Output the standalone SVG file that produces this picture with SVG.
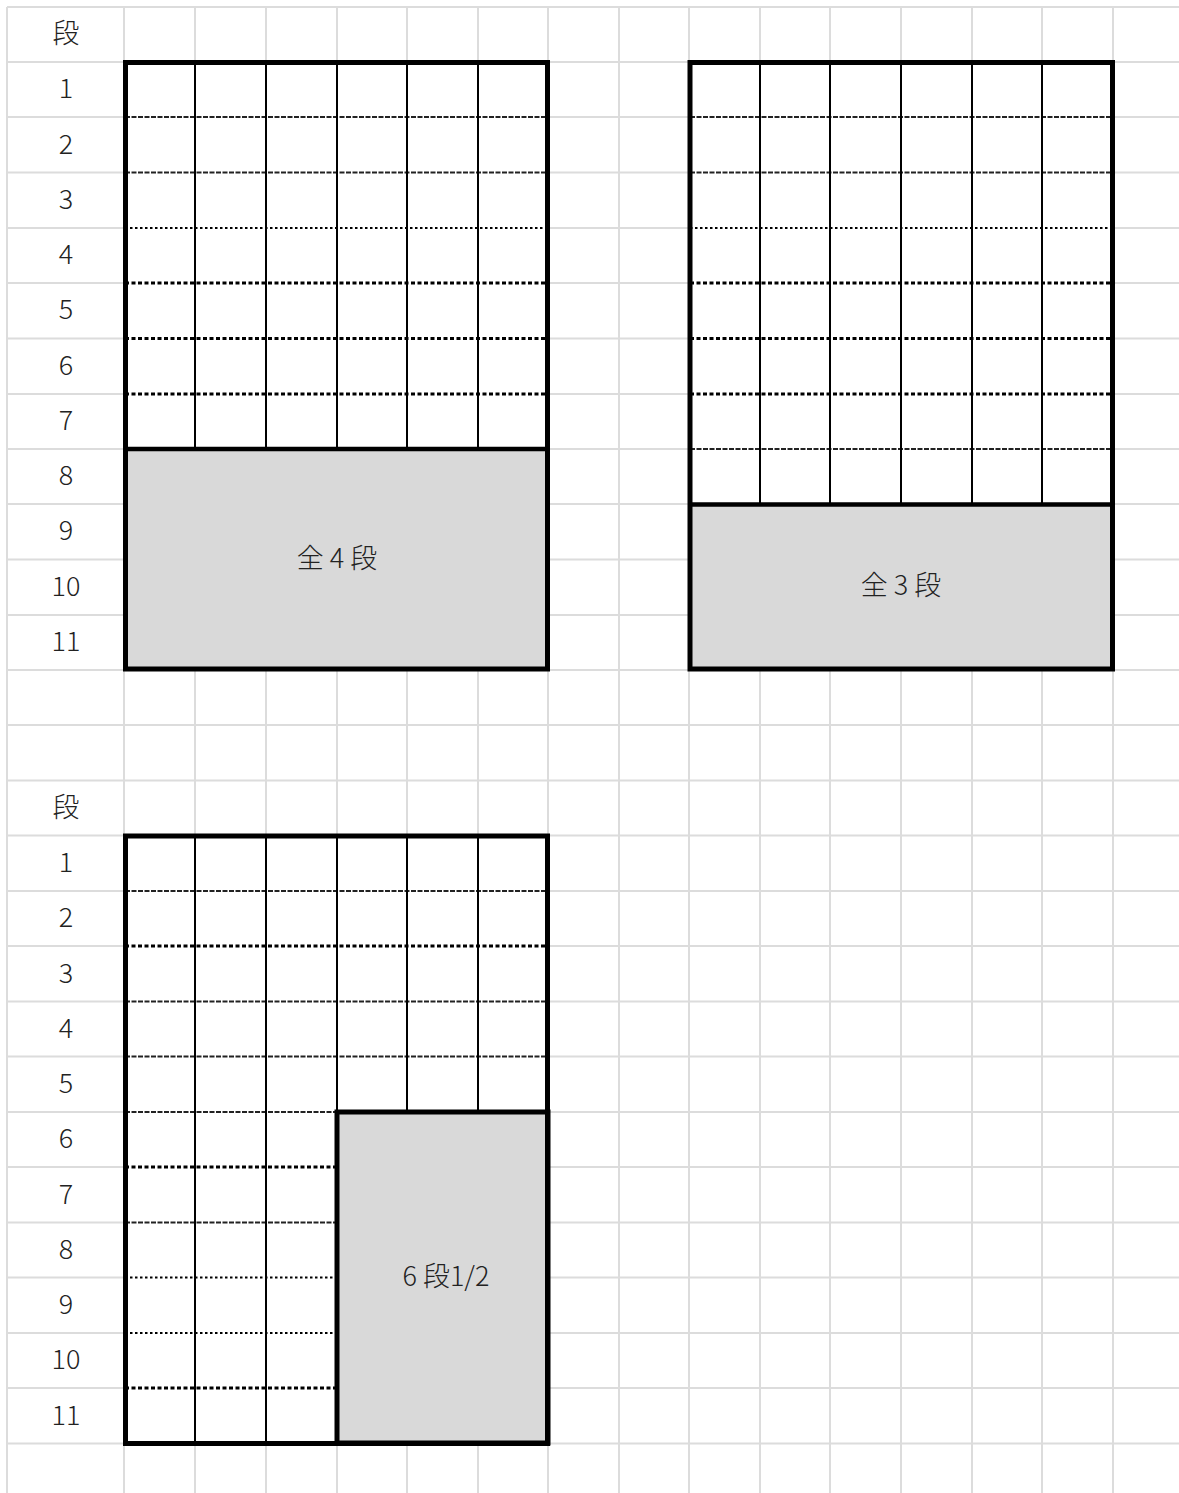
<svg xmlns="http://www.w3.org/2000/svg" width="1179" height="1493" viewBox="0 0 1179 1493">
<style>
.grid line{stroke:#dcdcdc;stroke-width:2}
.lbl{font-family:"Noto Sans CJK JP","Noto Sans",sans-serif;font-size:27px;font-weight:300;fill:#222;text-anchor:middle;dominant-baseline:central}
.txt{font-family:"Noto Sans CJK JP","Noto Sans",sans-serif;font-size:27px;font-weight:300;fill:#222;text-anchor:middle;dominant-baseline:central}
.v{stroke:#000;stroke-width:2}
.thin{stroke:#222;stroke-width:1.8;stroke-dasharray:5 1.5}
.med{stroke:#000;stroke-width:2.2;stroke-dasharray:2.5 2.5}
.bold{stroke:#000;stroke-width:2.8;stroke-dasharray:4 2.5}
.frame{fill:none;stroke:#000;stroke-width:5}
.gray{fill:#d9d9d9}
</style>
<rect width="1179" height="1493" fill="#fff"/>
<g class="grid" id="grid">
<line x1="7" y1="7" x2="7" y2="1493"/>
<line x1="124" y1="7" x2="124" y2="1493"/>
<line x1="195" y1="7" x2="195" y2="1493"/>
<line x1="266" y1="7" x2="266" y2="1493"/>
<line x1="337" y1="7" x2="337" y2="1493"/>
<line x1="407" y1="7" x2="407" y2="1493"/>
<line x1="478" y1="7" x2="478" y2="1493"/>
<line x1="548" y1="7" x2="548" y2="1493"/>
<line x1="619" y1="7" x2="619" y2="1493"/>
<line x1="689" y1="7" x2="689" y2="1493"/>
<line x1="760" y1="7" x2="760" y2="1493"/>
<line x1="830" y1="7" x2="830" y2="1493"/>
<line x1="901" y1="7" x2="901" y2="1493"/>
<line x1="972" y1="7" x2="972" y2="1493"/>
<line x1="1042" y1="7" x2="1042" y2="1493"/>
<line x1="1113" y1="7" x2="1113" y2="1493"/>
<line x1="7" y1="7" x2="1179" y2="7"/>
<line x1="7" y1="62" x2="1179" y2="62"/>
<line x1="7" y1="117" x2="1179" y2="117"/>
<line x1="7" y1="172.5" x2="1179" y2="172.5"/>
<line x1="7" y1="228" x2="1179" y2="228"/>
<line x1="7" y1="283" x2="1179" y2="283"/>
<line x1="7" y1="338.5" x2="1179" y2="338.5"/>
<line x1="7" y1="394" x2="1179" y2="394"/>
<line x1="7" y1="449" x2="1179" y2="449"/>
<line x1="7" y1="504" x2="1179" y2="504"/>
<line x1="7" y1="559.5" x2="1179" y2="559.5"/>
<line x1="7" y1="615" x2="1179" y2="615"/>
<line x1="7" y1="670" x2="1179" y2="670"/>
<line x1="7" y1="725" x2="1179" y2="725"/>
<line x1="7" y1="780.5" x2="1179" y2="780.5"/>
<line x1="7" y1="835.5" x2="1179" y2="835.5"/>
<line x1="7" y1="891" x2="1179" y2="891"/>
<line x1="7" y1="946" x2="1179" y2="946"/>
<line x1="7" y1="1001.5" x2="1179" y2="1001.5"/>
<line x1="7" y1="1056.5" x2="1179" y2="1056.5"/>
<line x1="7" y1="1112" x2="1179" y2="1112"/>
<line x1="7" y1="1167" x2="1179" y2="1167"/>
<line x1="7" y1="1222.5" x2="1179" y2="1222.5"/>
<line x1="7" y1="1277.5" x2="1179" y2="1277.5"/>
<line x1="7" y1="1333" x2="1179" y2="1333"/>
<line x1="7" y1="1388" x2="1179" y2="1388"/>
<line x1="7" y1="1443.5" x2="1179" y2="1443.5"/>
</g>
<g id="labels-top">
<text class="lbl" x="66" y="31">段</text>
<text class="lbl" x="66" y="86">1</text>
<text class="lbl" x="66" y="142">2</text>
<text class="lbl" x="66" y="197">3</text>
<text class="lbl" x="66" y="252">4</text>
<text class="lbl" x="66" y="307">5</text>
<text class="lbl" x="66" y="363">6</text>
<text class="lbl" x="66" y="418">7</text>
<text class="lbl" x="66" y="473">8</text>
<text class="lbl" x="66" y="528">9</text>
<text class="lbl" x="66" y="584">10</text>
<text class="lbl" x="66" y="639">11</text>
</g>
<g id="labels-bottom">
<text class="lbl" x="66" y="805">段</text>
<text class="lbl" x="66" y="860">1</text>
<text class="lbl" x="66" y="915">2</text>
<text class="lbl" x="66" y="971">3</text>
<text class="lbl" x="66" y="1026">4</text>
<text class="lbl" x="66" y="1081">5</text>
<text class="lbl" x="66" y="1136">6</text>
<text class="lbl" x="66" y="1192">7</text>
<text class="lbl" x="66" y="1247">8</text>
<text class="lbl" x="66" y="1302">9</text>
<text class="lbl" x="66" y="1357">10</text>
<text class="lbl" x="66" y="1413">11</text>
</g>
<g id="block1">
<rect class="gray" x="125" y="449" width="423" height="220"/>
<rect x="125" y="62" width="423" height="387" fill="#fff"/>
<line class="thin" x1="125" y1="117" x2="548" y2="117"/>
<line class="thin" x1="125" y1="172.5" x2="548" y2="172.5"/>
<line class="med" x1="125" y1="228" x2="548" y2="228"/>
<line class="bold" x1="125" y1="283" x2="548" y2="283"/>
<line class="bold" x1="125" y1="338.5" x2="548" y2="338.5"/>
<line class="bold" x1="125" y1="394" x2="548" y2="394"/>
<line class="v" x1="195" y1="62" x2="195" y2="449"/>
<line class="v" x1="266" y1="62" x2="266" y2="449"/>
<line class="v" x1="337" y1="62" x2="337" y2="449"/>
<line class="v" x1="407" y1="62" x2="407" y2="449"/>
<line class="v" x1="478" y1="62" x2="478" y2="449"/>
<line stroke="#000" stroke-width="4.5" x1="125" y1="449" x2="548" y2="449"/>
<rect class="frame" x="125.5" y="62.5" width="422" height="606.5"/>
<text class="txt" x="337" y="556">全 4 段</text>
</g>
<g id="block2">
<rect class="gray" x="690" y="504" width="423" height="165"/>
<rect x="690" y="62" width="423" height="442" fill="#fff"/>
<line class="thin" x1="690" y1="117" x2="1113" y2="117"/>
<line class="thin" x1="690" y1="172.5" x2="1113" y2="172.5"/>
<line class="med" x1="690" y1="228" x2="1113" y2="228"/>
<line class="bold" x1="690" y1="283" x2="1113" y2="283"/>
<line class="bold" x1="690" y1="338.5" x2="1113" y2="338.5"/>
<line class="bold" x1="690" y1="394" x2="1113" y2="394"/>
<line class="thin" x1="690" y1="449" x2="1113" y2="449"/>
<line class="v" x1="760" y1="62" x2="760" y2="504"/>
<line class="v" x1="830" y1="62" x2="830" y2="504"/>
<line class="v" x1="901" y1="62" x2="901" y2="504"/>
<line class="v" x1="972" y1="62" x2="972" y2="504"/>
<line class="v" x1="1042" y1="62" x2="1042" y2="504"/>
<line stroke="#000" stroke-width="4.5" x1="690" y1="504.5" x2="1113" y2="504.5"/>
<rect class="frame" x="690" y="62.5" width="422.5" height="606.5"/>
<text class="txt" x="901" y="583">全 3 段</text>
</g>
<g id="block3">
<rect x="125" y="835" width="423" height="608" fill="#fff"/>
<rect class="gray" x="337" y="1112" width="211" height="331"/>
<line class="thin" x1="125" y1="891" x2="548" y2="891"/>
<line class="bold" x1="125" y1="946" x2="548" y2="946"/>
<line class="thin" x1="125" y1="1001.5" x2="548" y2="1001.5"/>
<line class="thin" x1="125" y1="1056.5" x2="548" y2="1056.5"/>
<line class="thin" x1="125" y1="1112" x2="335" y2="1112"/>
<line class="bold" x1="125" y1="1167" x2="335" y2="1167"/>
<line class="thin" x1="125" y1="1222.5" x2="335" y2="1222.5"/>
<line class="med" x1="125" y1="1277.5" x2="335" y2="1277.5"/>
<line class="med" x1="125" y1="1333" x2="335" y2="1333"/>
<line class="bold" x1="125" y1="1388" x2="335" y2="1388"/>
<line class="v" x1="195" y1="835" x2="195" y2="1443"/>
<line class="v" x1="266" y1="835" x2="266" y2="1443"/>
<line class="v" x1="337" y1="835" x2="337" y2="1112"/>
<line class="v" x1="407" y1="835" x2="407" y2="1112"/>
<line class="v" x1="478" y1="835" x2="478" y2="1112"/>
<rect class="frame" x="337" y="1112" width="211" height="331"/>
<rect class="frame" x="125.5" y="836" width="422" height="607.5"/>
<text class="txt" x="446" y="1274">6 段1/2</text>
</g>
</svg>
